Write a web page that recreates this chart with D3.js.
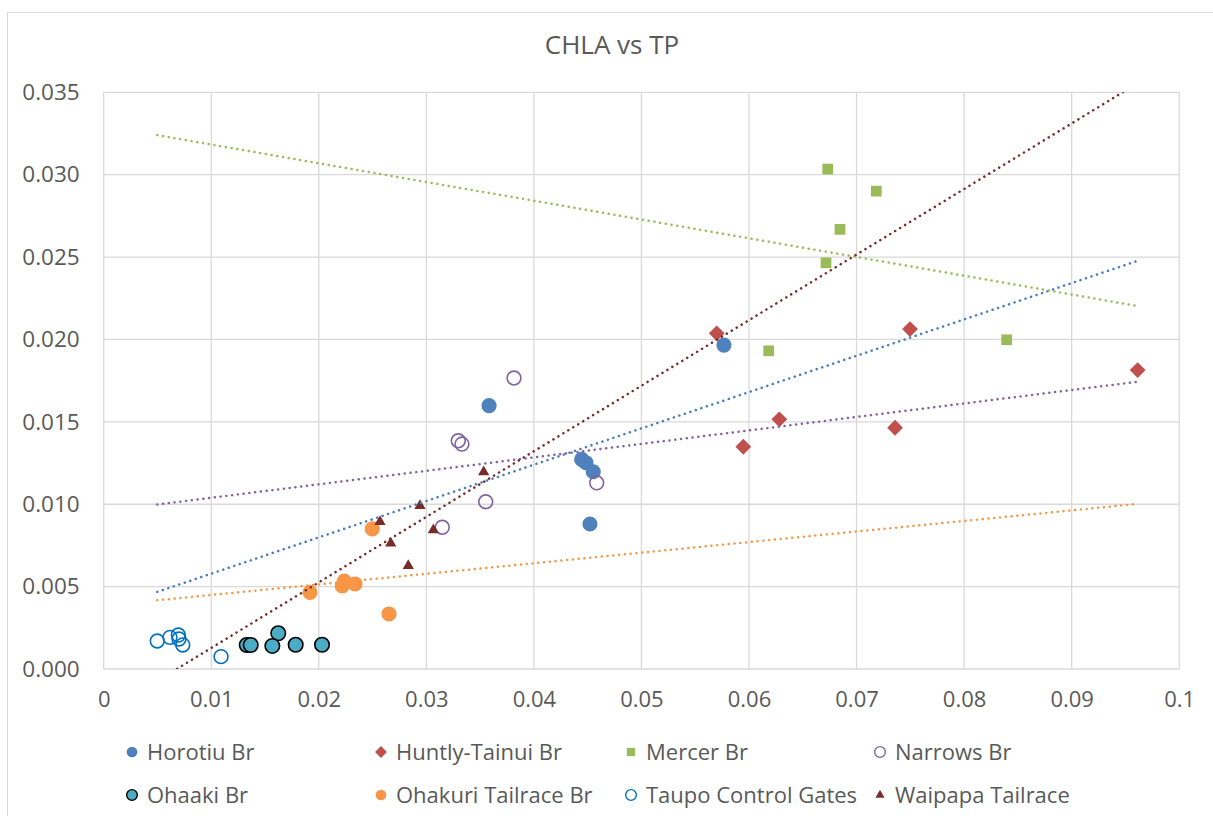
<html>
<head>
<style>
  body { margin: 0; background: #fff; }
  text { font-family: "Open Sans", sans-serif; fill: #595959; }
</style>
</head>
<body>
<script src="https://d3js.org/d3.v7.min.js"></script>
<script>
// values (TP on x, CHLA on y)
var horotiuTP   = [0.03583, 0.04444, 0.04484, 0.04552, 0.04521, 0.05767];
var horotiuCHLA = [0.01598, 0.01272, 0.01252, 0.01197, 0.00880, 0.01966];
var huntlyTP    = [0.05700, 0.05947, 0.06282, 0.07358, 0.07497, 0.09614];
var huntlyCHLA  = [0.02037, 0.01349, 0.01515, 0.01464, 0.02063, 0.01814];
var mercerTP    = [0.06732, 0.07184, 0.06846, 0.06716, 0.06183, 0.08396];
var mercerCHLA  = [0.03034, 0.02900, 0.02668, 0.02465, 0.01931, 0.01998];
var narrowsTP   = [0.03297, 0.03331, 0.03552, 0.03148, 0.03815, 0.04584];
var narrowsCHLA = [0.01385, 0.01365, 0.01015, 0.00860, 0.01766, 0.01130];
var ohaakiTP    = [0.01330, 0.01367, 0.01623, 0.01568, 0.01785, 0.02030];
var ohaakiCHLA  = [0.00146, 0.00146, 0.00217, 0.00140, 0.00147, 0.00147];
var ohakuriTP   = [0.02497, 0.01918, 0.02237, 0.02218, 0.02337, 0.02653];
var ohakuriCHLA = [0.00850, 0.00465, 0.00534, 0.00504, 0.00516, 0.00334];
var taupoTP     = [0.00498, 0.00616, 0.00694, 0.00700, 0.00735, 0.01091];
var taupoCHLA   = [0.00170, 0.00192, 0.00206, 0.00182, 0.00146, 0.00075];
var waipapaTP   = [0.03533, 0.02941, 0.02569, 0.03065, 0.02669, 0.02832];
var waipapaCHLA = [0.01195, 0.00991, 0.00894, 0.00843, 0.00763, 0.00627];

// linear trendlines: CHLA at start and end of the TP range
var trendTP = [0.00498, 0.09598];
var trendHorotiu = [0.00468, 0.02474];
var trendMercer  = [0.03240, 0.02205];
var trendNarrows = [0.00998, 0.01742];
var trendOhakuri = [0.00417, 0.01001];
var trendWaipapa = [-0.00072, 0.03549];

var xTicks = [0, 0.01, 0.02, 0.03, 0.04, 0.05, 0.06, 0.07, 0.08, 0.09, 0.1];
var xTickLabels = ["0", "0.01", "0.02", "0.03", "0.04", "0.05", "0.06", "0.07", "0.08", "0.09", "0.1"];
var yTicks = [0, 0.005, 0.01, 0.015, 0.02, 0.025, 0.03, 0.035];

var W = 1213, H = 816;
var plotLeft = 103.7, plotRight = 1179.2, plotTop = 92.3, plotBottom = 669;

var x = d3.scaleLinear().domain([0, 0.1]).range([plotLeft, plotRight]);
var y = d3.scaleLinear().domain([0, 0.035]).range([plotBottom, plotTop]);

var svg = d3.select("body").append("svg")
    .attr("width", W)
    .attr("height", H);

// chart border (right and bottom edges fall outside the picture)
svg.append("rect")
    .attr("x", 7.5).attr("y", 12.5)
    .attr("width", 1300).attr("height", 900)
    .attr("fill", "none").attr("stroke", "#d9d9d9");

svg.append("text")
    .attr("x", 612).attr("y", 54)
    .attr("text-anchor", "middle")
    .style("font-size", "26px")
    .text("CHLA vs TP");

// gridlines
var grid = svg.append("g").attr("stroke", "#d9d9d9").attr("stroke-width", 1.3);
grid.selectAll(".gx").data(xTicks).enter().append("line")
    .attr("x1", function(d) { return x(d); }).attr("x2", function(d) { return x(d); })
    .attr("y1", plotTop).attr("y2", plotBottom);
grid.selectAll(".gy").data(yTicks).enter().append("line")
    .attr("y1", function(d) { return y(d); }).attr("y2", function(d) { return y(d); })
    .attr("x1", plotLeft).attr("x2", plotRight);

// axes (labels only)
var xAxis = svg.append("g")
    .attr("transform", "translate(0," + plotBottom + ")")
    .call(d3.axisBottom(x).tickValues(xTicks)
        .tickFormat(function(d, i) { return xTickLabels[i]; })
        .tickSize(0).tickPadding(22));
xAxis.select(".domain").remove();
xAxis.selectAll("text").style("font-size", "22px").attr("fill", "#595959").attr("font-family", null);

var yAxis = svg.append("g")
    .attr("transform", "translate(" + plotLeft + ",0)")
    .call(d3.axisLeft(y).tickValues(yTicks).tickFormat(d3.format(".3f"))
        .tickSize(0).tickPadding(24));
yAxis.select(".domain").remove();
yAxis.selectAll("text").style("font-size", "22.5px").attr("fill", "#595959").attr("font-family", null);

function pts(tp, chla) {
    return tp.map(function(d, i) { return [d, chla[i]]; });
}

var series = [
    { name: "Horotiu Br", data: pts(horotiuTP, horotiuCHLA), sym: d3.symbolCircle, size: 180, fill: "#4f81bd", stroke: "none", rot: 0 },
    { name: "Huntly-Tainui Br", data: pts(huntlyTP, huntlyCHLA), sym: d3.symbolSquare, size: 125, fill: "#c0504d", stroke: "none", rot: 45 },
    { name: "Mercer Br", data: pts(mercerTP, mercerCHLA), sym: d3.symbolSquare, size: 115, fill: "#9bbb59", stroke: "none", rot: 0 },
    { name: "Narrows Br", data: pts(narrowsTP, narrowsCHLA), sym: d3.symbolCircle, size: 150, fill: "none", stroke: "#8064a2", rot: 0 },
    { name: "Ohaaki Br", data: pts(ohaakiTP, ohaakiCHLA), sym: d3.symbolCircle, size: 165, fill: "#4bacc6", stroke: "#000", rot: 0 },
    { name: "Ohakuri Tailrace Br", data: pts(ohakuriTP, ohakuriCHLA), sym: d3.symbolCircle, size: 180, fill: "#f79646", stroke: "none", rot: 0 },
    { name: "Taupo Control Gates", data: pts(taupoTP, taupoCHLA), sym: d3.symbolCircle, size: 150, fill: "none", stroke: "#0070c0", rot: 0 },
    { name: "Waipapa Tailrace", data: pts(waipapaTP, waipapaCHLA), sym: d3.symbolTriangle, size: 55, fill: "#772c2a", stroke: "none", rot: 0 }
];

var trends = [
    { vals: trendHorotiu, color: "#4a7ebb" },
    { vals: trendNarrows, color: "#8064a2" },
    { vals: trendMercer, color: "#9bbb59" },
    { vals: trendOhakuri, color: "#f79646" },
    { vals: trendWaipapa, color: "#772c2a" }
];

// markers
series.forEach(function(s) {
    svg.append("g").selectAll("path").data(s.data).enter().append("path")
        .attr("d", d3.symbol().type(s.sym).size(s.size))
        .attr("transform", function(d) {
            return "translate(" + x(d[0]) + "," + y(d[1]) + ") rotate(" + s.rot + ")";
        })
        .attr("fill", s.fill)
        .attr("stroke", s.stroke)
        .attr("stroke-width", 1.6);
});

// trendlines
svg.append("clipPath").attr("id", "plotclip").append("rect")
    .attr("x", plotLeft).attr("y", plotTop)
    .attr("width", plotRight - plotLeft).attr("height", plotBottom - plotTop);

var line = d3.line()
    .x(function(d) { return x(d[0]); })
    .y(function(d) { return y(d[1]); });

svg.append("g").attr("clip-path", "url(#plotclip)")
    .selectAll("path").data(trends).enter().append("path")
    .attr("d", function(t) { return line(pts(trendTP, t.vals)); })
    .attr("fill", "none")
    .attr("stroke", function(t) { return t.color; })
    .attr("stroke-width", 2.5)
    .attr("stroke-linecap", "round")
    .attr("stroke-dasharray", "0.1 5.7");

// legend
var legX = [132, 381, 631, 880];
var legY = [752, 795];
var leg = svg.append("g");
series.forEach(function(s, i) {
    var cx = legX[i % 4], cy = legY[Math.floor(i / 4)];
    var ls = s.sym === d3.symbolTriangle ? 36 : (s.sym === d3.symbolSquare ? 70 : 90);
    leg.append("path")
        .attr("d", d3.symbol().type(s.sym).size(ls))
        .attr("transform", "translate(" + cx + "," + cy + ") rotate(" + s.rot + ")")
        .attr("fill", s.fill)
        .attr("stroke", s.stroke)
        .attr("stroke-width", 1.4);
    leg.append("text")
        .attr("x", cx + 15).attr("y", cy)
        .attr("dy", "0.35em")
        .style("font-size", "22px")
        .text(s.name);
});
</script>
</body>
</html>
